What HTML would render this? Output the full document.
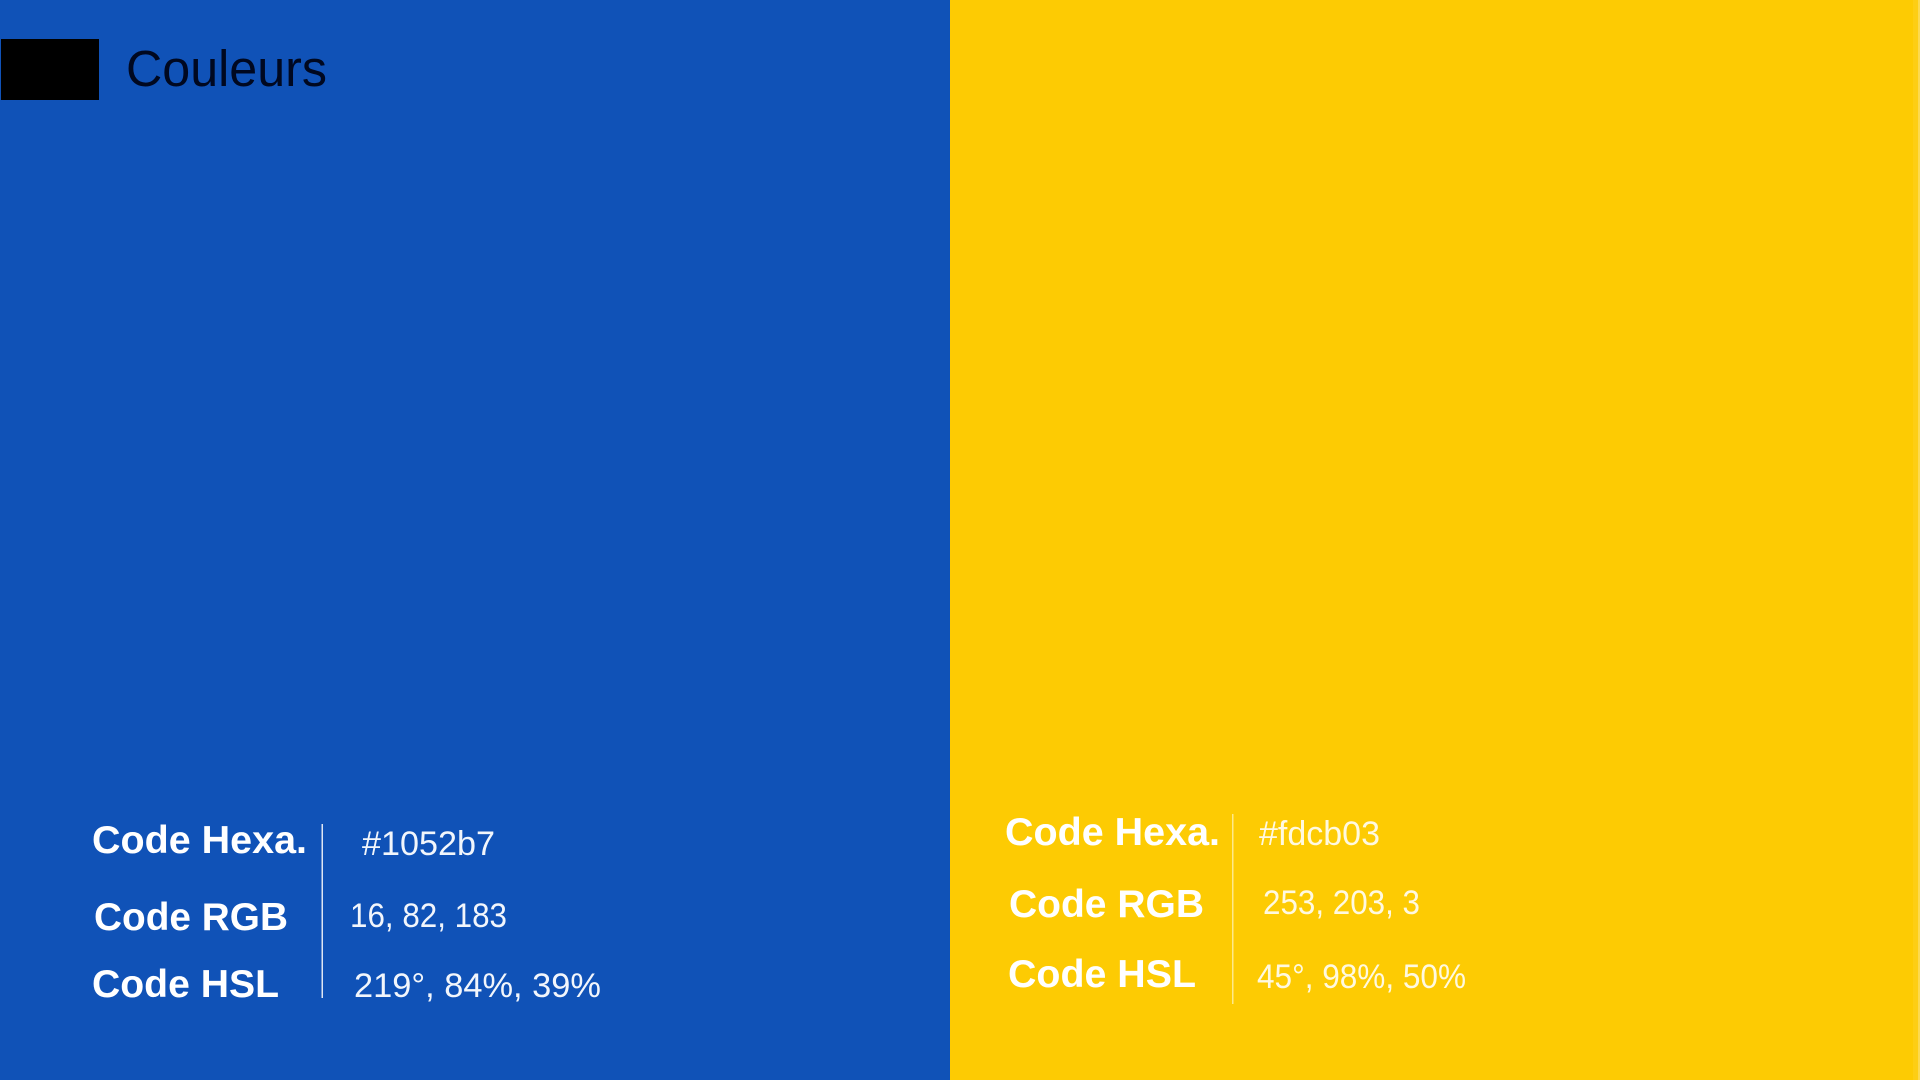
<!DOCTYPE html>
<html lang="fr">
<head>
<meta charset="utf-8">
<title>Couleurs</title>
<style>
html,body{margin:0;padding:0;width:1920px;height:1080px;overflow:hidden;background:#fdcb03}
svg{display:block}
text{font-family:"Liberation Sans",sans-serif;fill:#fff}
.lab{font-weight:700;font-size:39px}
.val{font-weight:400;font-size:34px;fill-opacity:.95}
#yellow-vals text{fill-opacity:.88}
</style>
</head>
<body>
<svg width="1920" height="1080" viewBox="0 0 1920 1080" xmlns="http://www.w3.org/2000/svg">
  <rect x="0" y="0" width="950" height="1080" fill="#1052b7"/>
  <rect x="950" y="0" width="970" height="1080" fill="#fdcb03"/>
  <rect x="1913" y="0" width="5" height="1080" fill="#fdce14"/>
  <rect x="1918" y="0" width="2" height="1080" fill="#fdda4e"/>

  <rect x="1" y="39" width="98" height="61" fill="#000"/>
  <text x="126" y="86" font-size="51" textLength="201" lengthAdjust="spacingAndGlyphs" style="fill:#000820">Couleurs</text>

  <g>
    <text class="lab" x="92" y="853" textLength="215" lengthAdjust="spacingAndGlyphs">Code Hexa.</text>
    <text class="lab" x="94" y="930" textLength="194" lengthAdjust="spacingAndGlyphs">Code RGB</text>
    <text class="lab" x="92" y="997" textLength="187" lengthAdjust="spacingAndGlyphs">Code HSL</text>
    <rect x="321.5" y="824" width="1.5" height="174" fill="#dfe6f3"/>
    <text class="val" x="362" y="855" textLength="133" lengthAdjust="spacingAndGlyphs">#1052b7</text>
    <text class="val" x="350" y="927" textLength="157" lengthAdjust="spacingAndGlyphs">16, 82, 183</text>
    <text class="val" x="354" y="997" textLength="247" lengthAdjust="spacingAndGlyphs">219°, 84%, 39%</text>
  </g>

  <g id="yellow-vals">
    <text class="lab" x="1005" y="845" textLength="215" lengthAdjust="spacingAndGlyphs" style="fill-opacity:1">Code Hexa.</text>
    <text class="lab" x="1009" y="917" textLength="195" lengthAdjust="spacingAndGlyphs" style="fill-opacity:1">Code RGB</text>
    <text class="lab" x="1008" y="987" textLength="188" lengthAdjust="spacingAndGlyphs" style="fill-opacity:1">Code HSL</text>
    <rect x="1232" y="814" width="1.5" height="190" fill="#fee98a"/>
    <text class="val" x="1259" y="845" textLength="121" lengthAdjust="spacingAndGlyphs">#fdcb03</text>
    <text class="val" x="1263" y="914" textLength="157" lengthAdjust="spacingAndGlyphs">253, 203, 3</text>
    <text class="val" x="1257" y="988" textLength="209" lengthAdjust="spacingAndGlyphs">45°, 98%, 50%</text>
  </g>
</svg>
</body>
</html>
